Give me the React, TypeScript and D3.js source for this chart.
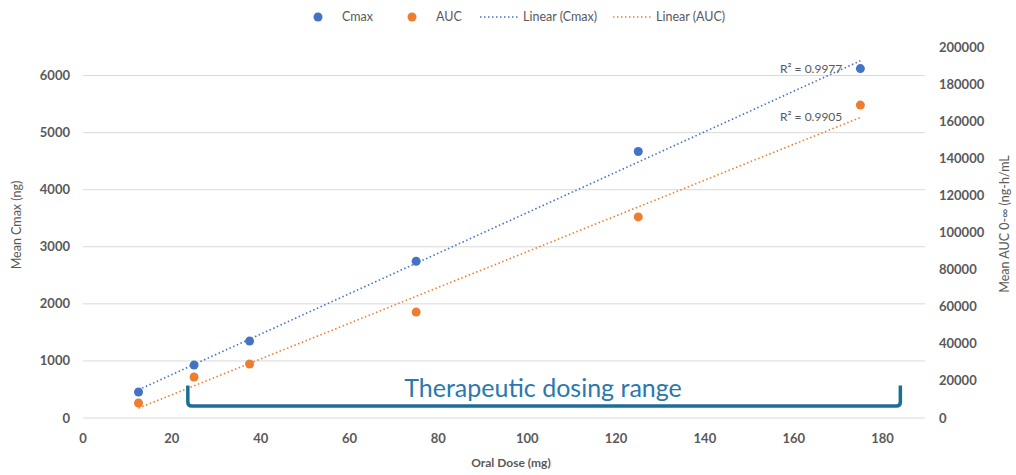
import React from 'react';
import * as d3 from 'd3';

// Oral dose (mg) for each cohort
const doses = [12.5, 25, 37.5, 75, 125, 175];
// Mean Cmax (ng), left axis
const cmax = [455, 927, 1347, 2746, 4670, 6122];
// Mean AUC 0-inf (ng-h/mL), right axis
const auc = [8100, 22100, 29100, 57100, 108400, 168700];

const xTicks = [0, 20, 40, 60, 80, 100, 120, 140, 160, 180];
const leftTicks = [0, 1000, 2000, 3000, 4000, 5000, 6000];
const rightTicks = [0, 20000, 40000, 60000, 80000, 100000, 120000, 140000, 160000, 180000, 200000];

const r2Labels = ['R² = 0.9977', 'R² = 0.9905'];
// therapeutic range bracket, in dose units / left axis units
const bracketDose = [23.6, 184];
const bracketCmax = [210, 570];

const BLUE = '#4472C4';
const ORANGE = '#ED7D31';
const GREY = '#595959';
const FONT = 'Lato, "Open Sans", sans-serif';

function fit(xs: number[], ys: number[]) {
  const mx = d3.mean(xs)!;
  const my = d3.mean(ys)!;
  const sxy = d3.sum(xs, (x, i) => (x - mx) * (ys[i] - my));
  const sxx = d3.sum(xs, (x) => (x - mx) ** 2);
  const b = sxy / sxx;
  return { a: my - b * mx, b };
}

const App = () => {
  const width = 1016;
  const height = 475;

  const x = d3.scaleLinear().domain([0, 190]).range([83, 927]);
  const yL = d3.scaleLinear().domain([0, 6500]).range([418, 47]);
  const yR = d3.scaleLinear().domain([0, 200000]).range([418, 47]);

  const fc = fit(doses, cmax);
  const fa = fit(doses, auc);
  const x0 = d3.min(doses)!;
  const x1 = d3.max(doses)!;

  const trend = (f: { a: number; b: number }, ys: d3.ScaleLinear<number, number>) =>
    d3.line<number>()
      .x((d) => x(d))
      .y((d) => ys(f.a + f.b * d))([x0, x1]);

  const bx0 = x(bracketDose[0]);
  const bx1 = x(bracketDose[1]);
  const byTop = yL(bracketCmax[1]);
  const byBot = yL(bracketCmax[0]);
  const rad = 4;
  const bracket = `M${bx0},${byTop} L${bx0},${byBot - rad} Q${bx0},${byBot} ${bx0 + rad},${byBot} L${bx1 - rad},${byBot} Q${bx1},${byBot} ${bx1},${byBot - rad} L${bx1},${byTop}`;

  return (
    <svg width={width} height={height} style={{ position: 'absolute', left: 0, top: 0, background: '#fff' }} fontFamily={FONT}>
      {/* gridlines */}
      {leftTicks.map((t) => (
        <line key={'g' + t} x1={83} x2={925} y1={yL(t)} y2={yL(t)} stroke="#d9d9d9" strokeWidth={1} />
      ))}

      {/* left axis labels */}
      {leftTicks.map((t) => (
        <text key={'l' + t} x={70} y={yL(t)} dy="0.35em" textAnchor="end" fontSize={13} fontWeight="bold" fill={GREY}>
          {t}
        </text>
      ))}
      {/* right axis labels */}
      {rightTicks.map((t) => (
        <text key={'r' + t} x={939} y={yR(t)} dy="0.35em" textAnchor="start" fontSize={13} fontWeight="bold" fill={GREY}>
          {t}
        </text>
      ))}
      {/* x axis labels */}
      {xTicks.map((t) => (
        <text key={'x' + t} x={x(t)} y={438} dy="0.35em" textAnchor="middle" fontSize={13} fontWeight="bold" fill={GREY}>
          {t}
        </text>
      ))}

      {/* axis titles */}
      <text x={511} y={467} textAnchor="middle" fontSize={12} fontWeight="bold" fill={GREY}>
        Oral Dose (mg)
      </text>
      <text transform="translate(21,225) rotate(-90)" textAnchor="middle" fontSize={12.5} fill={GREY}>
        Mean Cmax (ng)
      </text>
      <text transform="translate(1009,224) rotate(-90)" textAnchor="middle" fontSize={12.5} fill={GREY}>
        Mean AUC 0-∞ (ng-h/mL
      </text>

      {/* trendlines */}
      <path d={trend(fc, yL) || ''} fill="none" stroke={BLUE} strokeWidth={1.6} strokeDasharray="1.5 2.5" />
      <path d={trend(fa, yR) || ''} fill="none" stroke={ORANGE} strokeWidth={1.6} strokeDasharray="1.5 2.5" />

      {/* R² labels */}
      <text x={780} y={yL(6120)} dy="0.35em" fontSize={12} fill={GREY}>
        {r2Labels[0]}
      </text>
      <text x={780} y={yL(5270)} dy="0.35em" fontSize={12} fill={GREY}>
        {r2Labels[1]}
      </text>

      {/* points */}
      {doses.map((d, i) => (
        <circle key={'c' + i} cx={x(d)} cy={yL(cmax[i])} r={4.5} fill={BLUE} />
      ))}
      {doses.map((d, i) => (
        <circle key={'a' + i} cx={x(d)} cy={yR(auc[i])} r={4.5} fill={ORANGE} />
      ))}

      {/* therapeutic range bracket */}
      <path d={bracket} fill="none" stroke="#1B6E97" strokeWidth={3.5} />
      <text x={543} y={397} textAnchor="middle" fontSize={25} fill="#2A78AC">
        Therapeutic dosing range
      </text>

      {/* legend */}
      <g fontSize={12.5} fill={GREY}>
        <circle cx={318} cy={17} r={4.5} fill={BLUE} />
        <text x={342} y={17} dy="0.35em">Cmax</text>
        <circle cx={412} cy={17} r={4.5} fill={ORANGE} />
        <text x={436} y={17} dy="0.35em">AUC</text>
        <line x1={480} x2={518} y1={17} y2={17} stroke={BLUE} strokeWidth={1.6} strokeDasharray="1.5 2.5" />
        <text x={523} y={17} dy="0.35em">Linear (Cmax)</text>
        <line x1={613} x2={651} y1={17} y2={17} stroke={ORANGE} strokeWidth={1.6} strokeDasharray="1.5 2.5" />
        <text x={656} y={17} dy="0.35em">Linear (AUC)</text>
      </g>
    </svg>
  );
};

export default App;
